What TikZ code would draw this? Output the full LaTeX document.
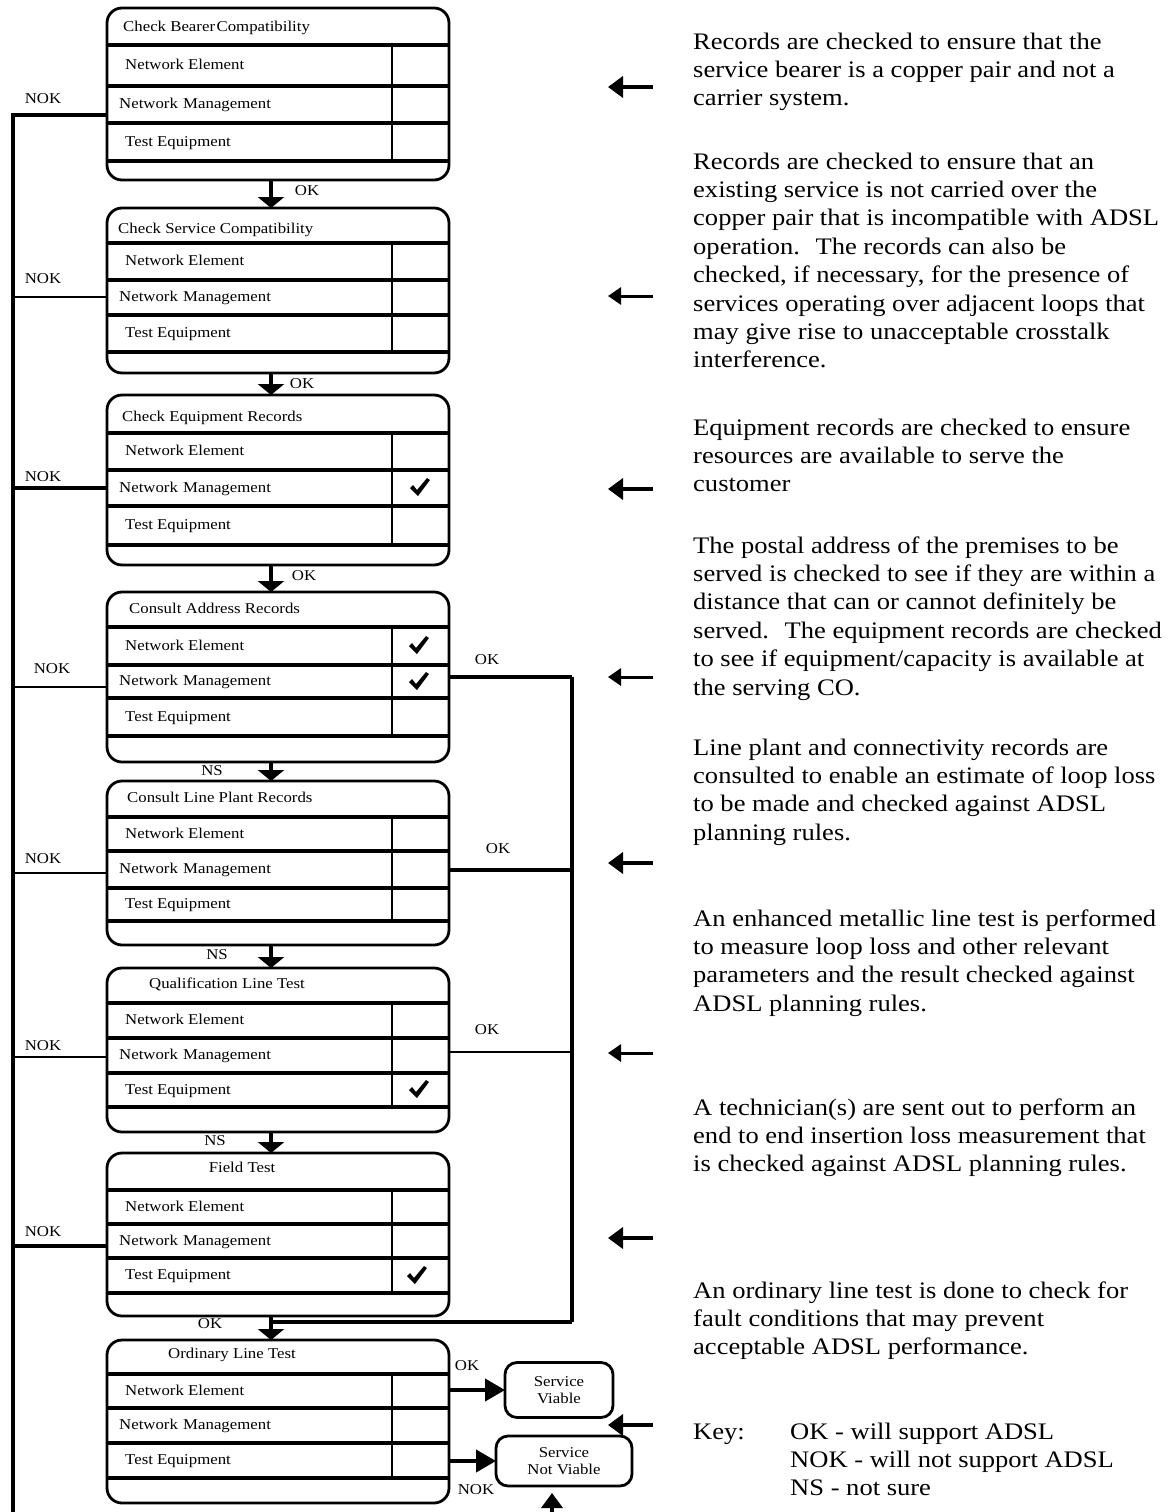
\documentclass[tikz,border=0pt]{standalone}
\usepackage{fontspec}
\setmainfont[FakeStretch=1.12]{Liberation Serif}
\usetikzlibrary{arrows.meta}

\newcommand{\notefont}{\fontsize{23.7}{28.4}\selectfont}
\newcommand{\boxfont}{\fontsize{15}{17}\selectfont}

% One stage of the qualification flow: frame, four rules, the divider
% and the three resource rows.
% #1 name, #2 top, #3 bottom, #4..#7 rule positions
\newcommand{\flowbox}[7]{%
  \node[stagebox, minimum height={#3-#2}] (#1) at (278,{(#2+#3)/2}) {};
  \foreach \s in {#4,#5,#6,#7} \draw[seprule] (107,\s) -- (449,\s);
  \draw[divline] (392,#4) -- (392,#7);
  \node[rowtext] (#1-ne) at (125,{(#4+#5)/2+4}) {Network Element};
  \node[rowtext] (#1-nm) at (119,{(#5+#6)/2+4}) {Network\hspace{0.35em}Management};
  \node[rowtext] (#1-te) at (125,{(#6+#7)/2+4}) {Test Equipment};
}

% Heavy tick placed in a resource cell
\newcommand{\tickmark}[2]{%
  \begin{scope}[shift={(#1,#2)}]
    \fill (-10,0) -- (-7,-3) -- (-3,2) -- (7,-10) -- (10,-8) -- (-2,8) -- cycle;
  \end{scope}
}

\begin{document}
\begin{tikzpicture}[x=1pt,y=-1pt,
  stagebox/.style={draw, line width=2.8pt, rounded corners=15pt,
    minimum width=342pt, inner sep=0pt, outer sep=0pt},
  seprule/.style={line width=4.5pt},
  divline/.style={line width=2.5pt},
  rowtext/.style={anchor=base west, inner sep=0pt, font=\boxfont},
  lbl/.style={anchor=base, inner sep=0pt, font=\boxfont},
  flowarrow/.style={line width=4.5pt, -{Triangle[length=11pt,width=26pt]}},
  busline/.style={line width=4.5pt, line join=miter},
  nokthick/.style={line width=4.5pt},
  nokthin/.style={line width=2.8pt},
  okthick/.style={line width=4.5pt},
  okthin/.style={line width=2.8pt},
  okbus/.style={line width=3.5pt},
  endbox/.style={draw, line width=2.8pt, rounded corners=12pt, inner sep=0pt,
    outer sep=0pt, align=center, font=\boxfont},
  endarrow/.style={line width=4pt, -{Triangle[length=20pt,width=22pt]}},
  ptrthick/.style={line width=4.5pt, -{Triangle[length=15pt,width=21pt]}},
  ptrthin/.style={line width=3pt, -{Triangle[length=13pt,width=17pt]}},
  note/.style={anchor=base west, inner sep=0pt, font=\notefont}
]
\useasboundingbox (0,0) rectangle (1168,1512);

% ---- stages ----
\flowbox{b1}{8}{180}{45}{86}{123}{161}
\node[rowtext] (b1-t) at (123,32) {Check Bearer\hspace{0.1em}Compatibility};
\flowbox{b2}{208}{373}{243}{280}{315}{352}
\node[rowtext] (b2-t) at (118,233) {Check Service Compatibility};
\flowbox{b3}{395}{565}{433}{470}{506}{545}
\node[rowtext] (b3-t) at (122,421) {Check Equipment Records};
\flowbox{b4}{592}{762}{627}{665}{698}{736}
\node[rowtext] (b4-t) at (129,613) {Consult Address Records};
\flowbox{b5}{781}{945}{817}{851}{888}{921}
\node[rowtext] (b5-t) at (127,802) {Consult Line Plant Records};
\flowbox{b6}{968}{1132}{1003}{1038}{1073}{1107}
\node[lbl] (b6-t) at (227,988) {Qualification Line Test};
\flowbox{b7}{1153}{1316}{1190}{1224}{1258}{1293}
\node[lbl] (b7-t) at (242,1172) {Field Test};
\flowbox{b8}{1340}{1503}{1374}{1408}{1443}{1478}
\node[lbl] (b8-t) at (232,1358) {Ordinary Line Test};

% ---- ticks ----
\tickmark{420}{488}
\tickmark{419}{646}
\tickmark{419}{682}
\tickmark{419}{1090}
\tickmark{417}{1276}

% ---- downward flow between stages ----
\draw[flowarrow] ([xshift=-7pt]b1.south) -- ([xshift=-7pt]b2.north);
\draw[flowarrow] ([xshift=-7pt]b2.south) -- ([xshift=-7pt]b3.north);
\draw[flowarrow] ([xshift=-7pt]b3.south) -- ([xshift=-7pt]b4.north);
\draw[flowarrow] ([xshift=-7pt]b4.south) -- ([xshift=-7pt]b5.north);
\draw[flowarrow] ([xshift=-7pt]b5.south) -- ([xshift=-7pt]b6.north);
\draw[flowarrow] ([xshift=-7pt]b6.south) -- ([xshift=-7pt]b7.north);
\draw[flowarrow] ([xshift=-7pt]b7.south) -- ([xshift=-7pt]b8.north);

\node[lbl] (ok12) at (307,195) {OK};
\node[lbl] (ok23) at (302,388) {OK};
\node[lbl] (ok34) at (304,580) {OK};
\node[lbl] (ns45) at (212,775) {NS};
\node[lbl] (ns56) at (217,959) {NS};
\node[lbl] (ns67) at (215,1145) {NS};
\node[lbl] (ok78) at (210,1328) {OK};

% ---- NOK bus on the left ----
\coordinate (bustop) at (13,115);
\coordinate (busend) at (13,1512);
\draw[busline] (b1.west |- bustop) -- (bustop) -- (busend);
\coordinate (nok2) at (13,297);
\coordinate (nok3) at (13,488);
\coordinate (nok4) at (13,687);
\coordinate (nok5) at (13,873);
\coordinate (nok6) at (13,1057);
\coordinate (nok7) at (13,1246);
\draw[nokthin]  (nok2) -- (b2.west |- nok2);
\draw[nokthick] (nok3) -- (b3.west |- nok3);
\draw[nokthin]  (nok4) -- (b4.west |- nok4);
\draw[nokthin]  (nok5) -- (b5.west |- nok5);
\draw[nokthin]  (nok6) -- (b6.west |- nok6);
\draw[nokthick] (nok7) -- (b7.west |- nok7);

\node[lbl] (nokl1) at (43,103) {NOK};
\node[lbl] (nokl2) at (43,283) {NOK};
\node[lbl] (nokl3) at (43,481) {NOK};
\node[lbl] (nokl4) at (52,673) {NOK};
\node[lbl] (nokl5) at (43,863) {NOK};
\node[lbl] (nokl6) at (43,1050) {NOK};
\node[lbl] (nokl7) at (43,1236) {NOK};

% ---- OK bus on the right ----
\coordinate (okb4) at (572,677);
\coordinate (okb5) at (572,870);
\coordinate (okb6) at (572,1052);
\coordinate (okbot) at (572,1322);
\coordinate (okjoin) at (271,1322);
\draw[okthick] (b4.east |- okb4) -- (okb4);
\draw[okthick] (b5.east |- okb5) -- (okb5);
\draw[okthin]  (b6.east |- okb6) -- (okb6);
\draw[okbus] (okb4) -- (okbot);
\draw[okthick] (okbot) -- (okjoin);

\node[lbl] (okl4) at (487,664) {OK};
\node[lbl] (okl5) at (498,853) {OK};
\node[lbl] (okl6) at (487,1034) {OK};

% ---- outcomes ----
\node[endbox, minimum width=108pt, minimum height=55pt] (viable) at (559,1390) {Service\\Viable};
\node[endbox, minimum width=136pt, minimum height=50pt] (notviable) at (564,1461) {Service\\Not Viable};
\draw[endarrow] (b8.east |- viable.west) -- (viable.west);
\draw[endarrow] (b8.east |- notviable.west) -- (notviable.west);
\node[lbl] (okv) at (467,1370) {OK};
\node[lbl] (nokv) at (476,1494) {NOK};
\coordinate (upfoot) at (552,1512);
\draw[ptrthick] (upfoot) -- ([yshift=-7pt]upfoot |- notviable.south);

% ---- pointers from the notes ----
\foreach \k/\y/\w in {1/87/ptrthick,2/296/ptrthin,3/489/ptrthick,4/677/ptrthin,
                       5/863/ptrthick,6/1053/ptrthin,7/1238/ptrthick,8/1425/ptrthick}{
  \coordinate (ptr\k-tail) at (653,\y);
  \coordinate (ptr\k-head) at (608,\y);
  \draw[\w] (ptr\k-tail) -- (ptr\k-head);
}

% ---- notes ----
\node[note] (p1) at (693,49) {\parbox[t]{500pt}{%
Records are checked to ensure that the\\
service bearer is a copper pair and not a\\
carrier system.}};
\node[note] (p2) at (693,169) {\parbox[t]{500pt}{%
Records are checked to ensure that an\\
existing service is not carried over the\\
copper pair that is incompatible with ADSL\\
operation.~ The records can also be\\
checked, if necessary, for the presence of\\
services operating over adjacent loops that\\
may give rise to unacceptable crosstalk\\
interference.}};
\node[note] (p3) at (693,435) {\parbox[t]{500pt}{%
Equipment records are checked to ensure\\
resources are available to serve the\\
customer}};
\node[note] (p4) at (693,553) {\parbox[t]{500pt}{%
The postal address of the premises to be\\
served is checked to see if they are within a\\
distance that can or cannot definitely be\\
served.~ The equipment records are checked\\
to see if equipment/capacity is available at\\
the serving CO.}};
\node[note] (p5) at (693,755) {\parbox[t]{500pt}{%
Line plant and connectivity records are\\
consulted to enable an estimate of loop loss\\
to be made and checked against ADSL\\
planning rules.}};
\node[note] (p6) at (693,926) {\parbox[t]{500pt}{%
An enhanced metallic line test is performed\\
to measure loop loss and other relevant\\
parameters and the result checked against\\
ADSL planning rules.}};
\node[note] (p7) at (693,1115) {\parbox[t]{500pt}{%
A technician(s) are sent out to perform an\\
end to end insertion loss measurement that\\
is checked against ADSL planning rules.}};
\node[note] (p8) at (693,1298) {\parbox[t]{500pt}{%
An ordinary line test is done to check for\\
fault conditions that may prevent\\
acceptable ADSL performance.}};
\node[note] (key) at (693,1439) {Key:};
\node[note] (keylist) at (790,1439) {\parbox[t]{380pt}{%
OK - will support ADSL\\
NOK - will not support ADSL\\
NS - not sure}};
\end{tikzpicture}
\end{document}
